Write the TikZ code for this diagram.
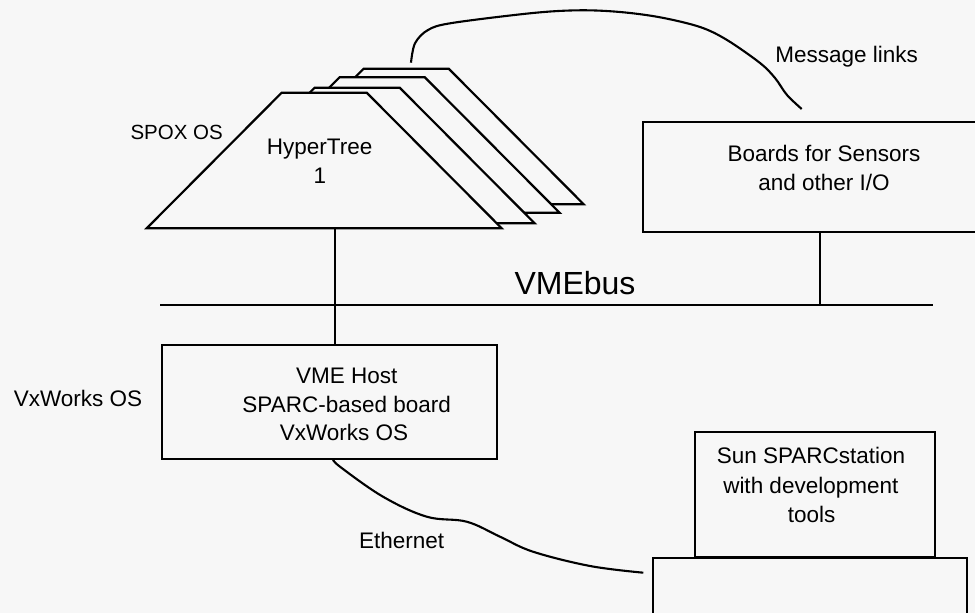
\documentclass[tikz,border=0pt]{standalone}
\usepackage{fontspec}
\setmainfont{Liberation Sans}
\definecolor{bg}{RGB}{247,247,247}
\begin{document}
\begin{tikzpicture}[x=1pt,y=1pt,
  line/.style={line width=2.1pt},
  board/.style={draw, line width=2.1pt, fill=bg, inner sep=0pt, rectangle},
  treeshape/.style={draw, line width=2.2pt, fill=bg, line join=miter},
  lbl/.style={font=\fontsize{22.5}{29}\selectfont, inner sep=0pt, anchor=base},
]
\fill[bg] (0,0) rectangle (975,613);
\useasboundingbox (0,0) rectangle (975,613);
\clip (0,0) rectangle (975,613);

% HyperTree stack (back to front)
\foreach \dx/\dy in {82/24, 58/15.5, 33/5, 0/0}{
  \begin{scope}[shift={(\dx,\dy)}]
    \draw[treeshape] (146.7,384.7) -- (281.7,520.3) -- (366.7,520.3) -- (501.7,384.7) -- cycle;
  \end{scope}
}
\coordinate (t1b) at (335,384.7);
\node[lbl] (ht) at (319.7,458) {HyperTree};
\node[lbl] (hn) at (320,429) {1};
\node[lbl, font=\fontsize{20.5}{25}\selectfont] (spox) at (176.7,473.7) {SPOX OS};

% Boards box
\node[board, minimum width=341.7pt, minimum height=110.6pt] (io) at (814.2,436) {};
\node[lbl] (io1) at (824,451.3) {Boards for Sensors};
\node[lbl] (io2) at (824,422.3) {and other I/O};

% Message links
\node[lbl] (msg) at (846.7,550.3) {Message links};
\coordinate (m0) at (411,550.3);
\coordinate (m1) at (801.7,504);
\draw[line] plot[smooth, tension=0.55] coordinates {(m0) (415,569.7) (428,583) (452,590) (533,600) (580,602.7) (620,601) (660,595.7) (700,586) (727,573) (760,550) (775,535) (787,518) (m1)};

% VMEbus
\coordinate (busL) at (160,308);
\coordinate (busR) at (933.3,308);
\draw[line] (busL) -- (busR);
\node[lbl, font=\fontsize{32}{38}\selectfont] (vme) at (575,318) {VMEbus};

% VME host
\node[board, minimum width=335pt, minimum height=114pt] (host) at (329.2,211) {};
\node[lbl] (h1) at (346.7,229.7) {VME Host};
\node[lbl] (h2) at (346.7,200.3) {SPARC-based board};
\node[lbl] (h3) at (344,172) {VxWorks OS};
\node[lbl] (vxl) at (78,206.3) {VxWorks OS};

% vertical connections
\draw[line] (t1b) -- (t1b |- host.north);
\draw[line] (820,0 |- io.south) -- (820,0 |- busR);

% Sun workstation
\node[board, minimum width=240pt, minimum height=124.4pt] (sun) at (815,118.5) {};
\node[board, minimum width=313.4pt, minimum height=66.7pt] (base) at (810,21.35) {};
\node[lbl] (s1) at (811,149) {Sun SPARCstation};
\node[lbl] (s2) at (810.8,119) {with development};
\node[lbl] (s3) at (811.7,90.7) {tools};

% Ethernet
\coordinate (e0) at (333,154);
\coordinate (e1) at (643.3,40.3);
\draw[line] plot[smooth, tension=0.6] coordinates {(e0) (340,146.3) (383,116.3) (426.7,96.3) (466.7,91.3) (500,76.3) (533,61.3) (590,47) (e1)};
\node[lbl] (eth) at (401.7,64) {Ethernet};
\end{tikzpicture}
\end{document}
